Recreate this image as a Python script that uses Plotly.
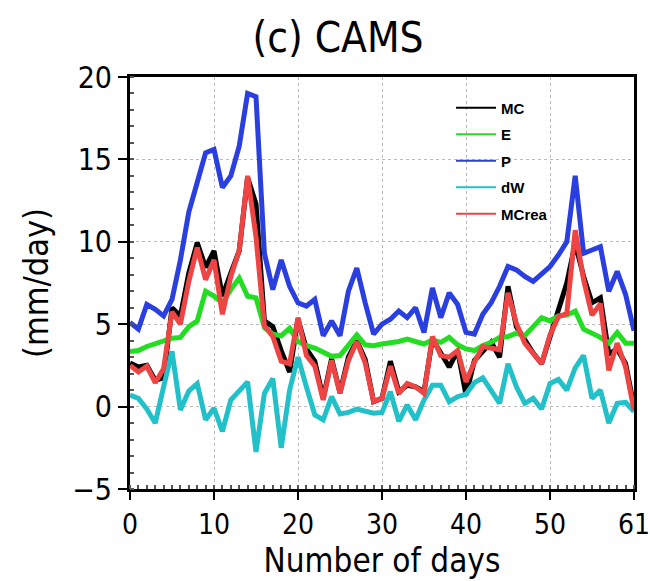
import plotly.graph_objects as go

days = list(range(61))
tick_vals = [0, 10, 20, 30, 40, 50, 60]
tick_text = ["0", "10", "20", "30", "40", "50", "61"]

MC = [2.65, 2.4, 2.5, 1.6, 1.75, 6.0, 5.5, 8.1, 9.95, 8.45, 9.45, 6.7, 8.1, 9.45, 13.9, 12.3,
      5.2, 4.85, 3.4, 2.1, 5.3, 3.5, 2.75, 0.5, 2.9, 0.85, 3.0, 4.0, 2.85, 0.3, 0.5, 2.75,
      0.9, 1.3, 1.2, 0.9, 4.1, 3.3, 2.4, 3.4, 0.7, 2.8, 3.4, 3.9, 3.0, 7.3, 4.85, 4.0,
      3.25, 2.6, 4.2, 5.9, 7.5, 9.9, 7.9, 6.3, 6.6, 3.2, 3.5, 2.6, 0.0]
E = [3.35, 3.4, 3.65, 3.8, 4.0, 4.15, 4.2, 4.85, 5.2, 7.0, 6.7, 6.3, 7.1, 7.8, 6.7, 6.6,
     4.8, 4.4, 4.3, 4.75, 3.95, 3.7, 3.55, 3.3, 3.05, 3.1, 3.7, 4.35, 3.75, 3.7, 3.8, 3.85,
     3.95, 4.1, 3.95, 3.8, 4.05, 3.9, 4.2, 3.75, 3.5, 3.4, 3.7, 3.9, 4.2, 4.25, 4.45, 4.3,
     4.85, 5.4, 5.2, 5.5, 5.55, 5.8, 4.7, 4.45, 4.2, 3.85, 4.5, 3.85, 3.85]
P = [5.1, 4.7, 6.2, 5.9, 5.5, 6.5, 8.9, 11.8, 13.6, 15.4, 15.6, 13.3, 14.0, 15.8, 19.0, 18.8,
     9.3, 7.1, 8.9, 7.3, 6.3, 6.1, 6.5, 4.3, 5.2, 4.3, 7.0, 8.4, 6.3, 4.4, 5.0, 5.3,
     5.8, 5.4, 6.0, 4.5, 7.2, 5.4, 6.9, 6.2, 4.5, 4.4, 5.6, 6.3, 7.3, 8.5, 8.3, 7.9,
     7.6, 8.1, 8.5, 9.2, 10.0, 14.0, 9.3, 9.5, 9.7, 7.0, 8.2, 6.8, 4.6]
dW = [0.7, 0.5, -0.15, -1.0, 1.2, 3.35, -0.2, 0.95, 1.4, -0.8, -0.1, -1.5, 0.4, 1.0, 1.5, -2.75,
      0.8, 1.7, -2.5, 1.0, 3.0, 1.2, -0.5, -0.8, 0.6, -0.45, -0.35, -0.15, -0.3, -0.4, -0.35, 0.9,
      -0.9, 0.1, -0.8, 0.4, 1.3, 1.3, 0.3, 0.6, 0.75, 1.45, 1.75, 0.95, 0.2, 2.6, 1.2, 0.2,
      0.5, -0.15, 1.4, 1.65, 1.0, 2.35, 3.1, 0.5, 1.0, -1.0, 0.2, 0.25, -0.3]
MCrea = [2.5, 2.1, 2.45, 1.45, 2.3, 5.75, 5.0, 7.6, 9.65, 7.7, 8.9, 5.6, 7.9, 9.45, 14.0, 10.3,
         4.9, 4.25, 2.75, 2.6, 5.4, 3.1, 2.45, 0.4, 2.8, 0.8, 2.8, 3.95, 2.65, 0.3, 0.5, 2.45,
         0.8, 1.4, 1.2, 0.8, 4.25, 3.1, 3.0, 3.4, 1.5, 2.7, 3.65, 3.55, 3.45, 6.9, 5.05, 3.85,
         3.2, 2.6, 4.35, 5.45, 5.65, 10.7, 7.7, 5.55, 6.25, 2.2, 3.85, 2.4, -0.2]

series = [
    ("MC", MC, "#000000"),
    ("E", E, "#22dd22"),
    ("P", P, "#2a3fe0"),
    ("dW", dW, "#22c0c8"),
    ("MCrea", MCrea, "#ee4444"),
]

fig = go.Figure()
for name, vals, color in series:
    fig.add_trace(go.Scatter(x=days, y=vals, mode="lines", name=name,
                             line=dict(color=color, width=5), showlegend=False))
for i, (name, vals, color) in enumerate(series):
    fig.add_trace(go.Scatter(x=[None], y=[None], mode="lines", name=name,
                             legendgroup=f"g{i}",
                             line=dict(color=color, width=2), showlegend=True))

narrow = "DejaVu Sans Condensed, Liberation Sans, Arial, sans-serif"

fig.update_layout(
    width=650, height=581,
    margin=dict(l=130, r=16, t=77, b=92),
    paper_bgcolor="white", plot_bgcolor="white",
    title=dict(text="(c) CAMS", x=0.52, xref="container", xanchor="center",
               y=0.935, yref="container", yanchor="middle",
               font=dict(family=narrow, size=42, color="black")),
    legend=dict(x=0.637, y=0.965, xanchor="left", yanchor="top",
                bgcolor="rgba(0,0,0,0)", traceorder="grouped", tracegroupgap=4,
                font=dict(family="Liberation Sans, Arial", size=15, color="black",
                          weight="bold"),
                itemwidth=40),
    font=dict(family=narrow, color="black"),
)

fig.update_xaxes(
    range=[0, 60], tickvals=tick_vals, ticktext=tick_text,
    ticks="outside", ticklen=8, tickwidth=2, tickcolor="black",
    tickfont=dict(family=narrow, size=28, color="black"),
    ticklabeloverflow="allow", automargin=False,
    showline=True, linewidth=3, linecolor="black", mirror=True,
    showgrid=True, gridcolor="#bbbbbb", griddash="dot", gridwidth=1,
    zeroline=False,
    minor=dict(ticks="inside", dtick=1, ticklen=4, tickcolor="#555555", showgrid=False),
    title=dict(text="Number of days", font=dict(family=narrow, size=33, color="black"),
               standoff=8),
)
fig.update_yaxes(
    range=[-5, 20], tickvals=[-5, 0, 5, 10, 15, 20],
    ticktext=["\u22125", "0", "5", "10", "15", "20"],
    ticks="outside", ticklen=9, tickwidth=2, tickcolor="black",
    tickfont=dict(family=narrow, size=30, color="black"),
    ticklabeloverflow="allow", automargin=False,
    showline=True, linewidth=3, linecolor="black", mirror=True,
    showgrid=True, gridcolor="#bbbbbb", griddash="dot", gridwidth=1,
    zeroline=False,
    minor=dict(ticks="inside", dtick=1, ticklen=4, tickcolor="#555555", showgrid=False),
    title=dict(text="(mm/day)", font=dict(family=narrow, size=34, color="black"),
               standoff=14),
)

fig.write_html("out.html")
